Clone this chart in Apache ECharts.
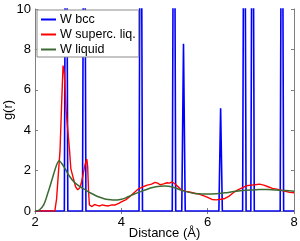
<!DOCTYPE html>
<html><head><meta charset="utf-8">
<script src="https://cdn.jsdelivr.net/npm/echarts@6/dist/echarts.min.js"></script>
<style>html,body{margin:0;padding:0;background:#fff}#c{width:300px;height:241px}</style>
</head><body><div id="c"></div>
<script>
const seriesNames = ['W bcc', 'W superc. liq.', 'W liquid'];
const xTicks = [2, 4, 6, 8];
const yTicks = [0, 2, 4, 6, 8, 10];
// bcc peak positions and heights (tall ones exceed the axis and are clipped)
const bccPeakX = [2.72, 3.14, 4.45, 5.22, 5.44, 6.30, 6.85, 7.04, 7.72];
const bccPeakY = [25, 25, 25, 25, 8.28, 5.08, 25, 25, 25];
const bccHalfWidth = 0.04;
const supercX = [2.0,2.4,2.46,2.5,2.54,2.58,2.62,2.65,2.68,2.72,2.76,2.8,2.83,2.89,2.94,2.99,3.04,3.08,3.12,3.16,3.2,3.22,3.24,3.26,3.32,3.38,3.44,3.5,3.56,3.62,3.7,3.78,3.86,3.94,4.0,4.1,4.2,4.3,4.4,4.5,4.6,4.7,4.78,4.84,4.9,4.98,5.06,5.12,5.17,5.24,5.33,5.4,5.5,5.6,5.7,5.8,5.9,6.0,6.1,6.2,6.3,6.4,6.5,6.6,6.7,6.8,6.9,7.0,7.1,7.2,7.3,7.4,7.5,7.6,7.7,7.8,7.9,8.0];
const supercY = [0,0,0,0.6,1.8,3.0,5.5,7.2,6.8,5.0,4.0,3.0,2.1,1.6,1.2,1.05,1.15,1.45,1.87,2.3,2.57,2.2,1.0,0.3,0.22,0.32,0.28,0.25,0.3,0.27,0.25,0.3,0.3,0.38,0.45,0.55,0.72,0.92,1.1,1.2,1.28,1.33,1.42,1.38,1.3,1.34,1.4,1.38,1.44,1.35,1.17,1.03,0.97,0.93,0.88,0.84,0.76,0.67,0.57,0.55,0.58,0.62,0.74,0.92,1.05,1.15,1.25,1.28,1.3,1.33,1.28,1.2,1.12,1.08,1.03,0.98,0.92,0.9];
const liquidX = [2.0,2.1,2.2,2.3,2.4,2.5,2.56,2.62,2.7,2.8,2.9,3.0,3.1,3.2,3.3,3.4,3.5,3.6,3.7,3.8,3.9,4.0,4.1,4.2,4.3,4.4,4.5,4.6,4.7,4.8,4.9,5.0,5.1,5.2,5.3,5.4,5.5,5.6,5.7,5.8,5.9,6.0,6.2,6.4,6.6,6.8,7.0,7.2,7.4,7.6,7.8,8.0];
const liquidY = [0,0.05,0.3,0.9,1.6,2.28,2.49,2.35,2.08,1.72,1.45,1.27,1.13,1.0,0.88,0.77,0.68,0.61,0.57,0.55,0.55,0.58,0.65,0.74,0.84,0.92,1.0,1.08,1.15,1.2,1.23,1.24,1.22,1.18,1.1,1.02,0.96,0.91,0.87,0.85,0.84,0.84,0.86,0.9,0.96,1.01,1.04,1.06,1.06,1.04,1.01,0.98];

const bccData = [[2.0, 0]];
bccPeakX.forEach((x, i) => {
  bccData.push([x - bccHalfWidth, 0], [x, bccPeakY[i]], [x + bccHalfWidth, 0]);
});
bccData.push([8.0, 0]);
const zip = (xs, ys) => xs.map((x, i) => [x, ys[i]]);

const font = 'Liberation Sans, Arial, sans-serif';
const axisGray = '#7f7f7f';
const chart = echarts.init(document.getElementById('c'), null, {renderer: 'canvas'});
const baseX = {
  type: 'value', min: 2, max: 8, interval: 2,
  axisLine: {show: true, lineStyle: {color: axisGray, width: 1}},
  axisTick: {show: true, inside: true, length: 3, lineStyle: {color: axisGray}},
  splitLine: {show: false}
};
const baseY = {
  type: 'value', min: 0, max: 10, interval: 2,
  axisLine: {show: true, lineStyle: {color: axisGray, width: 1}},
  axisTick: {show: true, inside: true, length: 3, lineStyle: {color: axisGray}},
  splitLine: {show: false}
};
chart.setOption({
  animation: false,
  backgroundColor: '#fff',
  textStyle: {fontFamily: font},
  grid: {left: 35, right: 6, top: 9, bottom: 30, containLabel: false, outerBoundsMode: 'none'},
  legend: {
    orient: 'vertical', left: 37, top: 10,
    data: seriesNames,
    backgroundColor: '#fff', borderColor: '#8a8a8a', borderWidth: 1,
    padding: [3, 3, 1, 4], itemGap: 2,
    itemWidth: 15, itemHeight: 2, icon: 'rect',
    textStyle: {fontFamily: font, fontSize: 12.5, color: '#000', padding: [0, 0, 0, -1]}
  },
  xAxis: [
    Object.assign({}, baseX, {
      position: 'bottom',
      name: 'Distance (Å)', nameLocation: 'middle', nameGap: 16, nameMoveOverlap: false,
      nameTextStyle: {fontFamily: font, fontSize: 13, color: '#000'},
      axisLabel: {show: true, margin: 5, fontFamily: font, fontSize: 13, color: '#000',
        customValues: xTicks}
    }),
    Object.assign({}, baseX, {position: 'top', axisLabel: {show: false}})
  ],
  yAxis: [
    Object.assign({}, baseY, {
      position: 'left',
      name: 'g(r)', nameLocation: 'middle', nameGap: 20, nameMoveOverlap: false,
      nameTextStyle: {fontFamily: font, fontSize: 13, color: '#000'},
      axisLabel: {show: true, margin: 4, fontFamily: font, fontSize: 13, color: '#000'}
    }),
    Object.assign({}, baseY, {position: 'right', axisLabel: {show: false}})
  ],
  series: [
    {name: seriesNames[0], type: 'line', data: bccData, showSymbol: false, symbol: 'none',
     clip: true, lineStyle: {color: '#0000ff', width: 1.6}, itemStyle: {color: '#0000ff'}},
    {name: seriesNames[1], type: 'line', data: zip(supercX, supercY), showSymbol: false, symbol: 'none',
     clip: true, lineStyle: {color: '#ff0000', width: 1.4}, itemStyle: {color: '#ff0000'}},
    {name: seriesNames[2], type: 'line', data: zip(liquidX, liquidY), showSymbol: false, symbol: 'none',
     clip: true, smooth: 0.3, lineStyle: {color: '#3b6b33', width: 1.5}, itemStyle: {color: '#3b6b33'}}
  ]
});
</script></body></html>
